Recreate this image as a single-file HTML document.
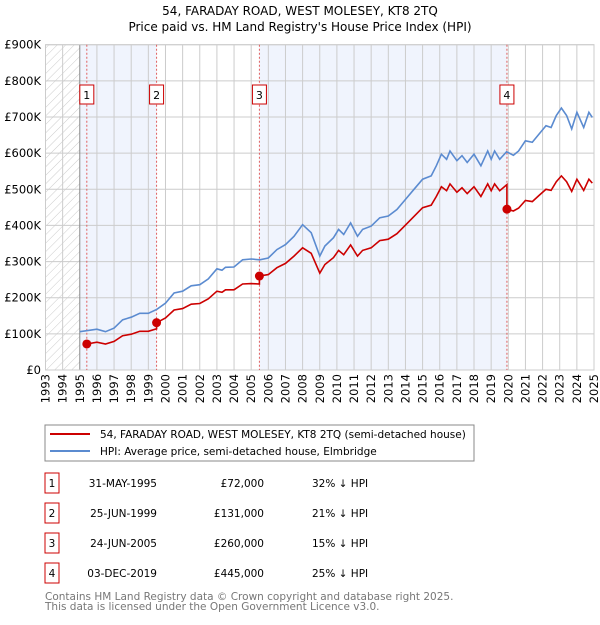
<!DOCTYPE html>
<html><head><meta charset="utf-8"><style>
body{margin:0;background:#fff;font-family:"Liberation Sans","DejaVu Sans",sans-serif}
svg text{font-family:"DejaVu Sans","Liberation Sans",sans-serif}
</style></head><body>
<svg id="c" width="600" height="620" xmlns="http://www.w3.org/2000/svg">
<defs><pattern id="hatch" width="6" height="6" patternUnits="userSpaceOnUse" patternTransform="rotate(45)"><line x1="0" y1="0" x2="0" y2="6" stroke="#ccc" stroke-width="1"/></pattern></defs>
<text x="300" y="15" text-anchor="middle" font-size="12">54, FARADAY ROAD, WEST MOLESEY, KT8 2TQ</text>
<text x="300" y="31" text-anchor="middle" font-size="12">Price paid vs. HM Land Registry's House Price Index (HPI)</text>
<g id="plot"></g>
<rect x="45" y="425" width="429" height="36" fill="#fff" stroke="#888"/>
<line x1="50" y1="434" x2="90" y2="434" stroke="#cc0000" stroke-width="2"/>
<text x="100" y="438" font-size="10.5">54, FARADAY ROAD, WEST MOLESEY, KT8 2TQ (semi-detached house)</text>
<line x1="50" y1="451" x2="90" y2="451" stroke="#5b8bd0" stroke-width="2"/>
<text x="100" y="455" font-size="10.5">HPI: Average price, semi-detached house, Elmbridge</text>
<g id="table" font-size="10.5"></g>
<text x="45" y="600" font-size="10.5" fill="#777">Contains HM Land Registry data © Crown copyright and database right 2025.</text>
<text x="45" y="610" font-size="10.5" fill="#777">This data is licensed under the Open Government Licence v3.0.</text>
</svg>
<script>
const hpiDates=[1995,1996,1996.5,1997,1997.5,1998,1998.5,1999,1999.5,2000,2000.5,2001,2001.5,2002,2002.5,2003,2003.3,2003.5,2004,2004.5,2005,2005.5,2006,2006.5,2007,2007.5,2008,2008.5,2009,2009.3,2009.8,2010.1,2010.4,2010.8,2011.2,2011.5,2012,2012.5,2013,2013.5,2014,2014.5,2015,2015.5,2015.8,2016.1,2016.4,2016.6,2017,2017.3,2017.6,2018,2018.4,2018.8,2019,2019.2,2019.5,2019.9,2020.3,2020.6,2021,2021.4,2021.8,2022.2,2022.5,2022.8,2023.1,2023.4,2023.7,2024,2024.4,2024.7,2024.9];
const hpiValues=[106,113,106,116,139,146,157,157,168,185,213,218,233,236,252,280,276,284,285,305,307,305,310,333,347,370,402,380,315,343,366,389,375,407,370,389,398,421,426,444,472,500,528,537,565,597,583,606,579,593,574,597,565,606,583,606,583,604,594,606,634,630,653,676,671,704,725,704,667,713,671,713,699];
const priceDates=[1995.41,1996,1996.5,1997,1997.5,1998,1998.5,1999,1999.48,1999.48,2000,2000.5,2001,2001.5,2002,2002.5,2003,2003.3,2003.5,2004,2004.5,2005,2005.48,2005.48,2006,2006.5,2007,2007.5,2008,2008.5,2009,2009.3,2009.8,2010.1,2010.4,2010.8,2011.2,2011.5,2012,2012.5,2013,2013.5,2014,2014.5,2015,2015.5,2015.8,2016.1,2016.4,2016.6,2017,2017.3,2017.6,2018,2018.4,2018.8,2019,2019.2,2019.5,2019.92,2019.92,2020.3,2020.6,2021,2021.4,2021.8,2022.2,2022.5,2022.8,2023.1,2023.4,2023.7,2024,2024.4,2024.7,2024.9];
const priceValues=[72,77,72,79,95,99,107,107,114,131,144,166,170,182,184,197,218,215,222,222,238,239,238,260,264,283,295,315,338,323,268,292,311,331,319,346,315,331,338,358,362,377,401,425,449,456,480,507,496,515,492,504,488,507,480,515,496,515,496,513,445,440,448,469,466,483,500,497,521,537,521,494,528,497,528,517];
const saleDates=[1995.41,1999.48,2005.48,2019.92];
const salePrices=[72,131,260,445];
const saleLabels=["31-MAY-1995","25-JUN-1999","24-JUN-2005","03-DEC-2019"];
const salePriceText=["£72,000","£131,000","£260,000","£445,000"];
const saleDiffText=["32% ↓ HPI","21% ↓ HPI","15% ↓ HPI","25% ↓ HPI"];
const yTicks=[0,100,200,300,400,500,600,700,800,900];
const yTickLabels=["£0","£100K","£200K","£300K","£400K","£500K","£600K","£700K","£800K","£900K"];
const xTicks=[];for(let y=1993;y<=2025;y++)xTicks.push(y);

const NS="http://www.w3.org/2000/svg";
const X0=45.5,X1=594,Y0=370,Y1=44.7;
const sx=v=>X0+(v-1993)/(2025-1993)*(X1-X0);
const sy=v=>Y0-(v/900)*(Y0-Y1);
const plot=document.getElementById('plot');
function mk(tag,attrs,parent){const e=document.createElementNS(NS,tag);for(const k in attrs)e.setAttribute(k,attrs[k]);(parent||plot).appendChild(e);return e;}

let r=mk('rect',{x:X0,y:Y1,width:X1-X0,height:Y0-Y1,fill:'#fff'});


r=mk('rect',{x:X0,y:Y1,width:sx(1995)-X0,height:Y0-Y1,fill:'url(#hatch)'});


const shades=[[1995,saleDates[1]],[saleDates[2],saleDates[3]]];
shades.forEach((s,i)=>{const e=mk('rect',{x:sx(s[0]),y:Y1,width:sx(s[1])-sx(s[0]),height:Y0-Y1,fill:'#f0f4fd'});

});
yTicks.forEach((t,i)=>{const l=mk('line',{x1:X0,x2:X1,y1:sy(t),y2:sy(t),stroke:'#ccc'});


const tx=mk('text',{x:41,y:sy(t)+4,'text-anchor':'end','font-size':'11.5'});tx.textContent=yTickLabels[i];

});
xTicks.forEach(t=>{const l=mk('line',{x1:sx(t),x2:sx(t),y1:Y1,y2:Y0,stroke:t==1995?'#888':'#ccc'});


const px=sx(t)+4,py=374;
const tx=mk('text',{x:px,y:py,'text-anchor':'end','font-size':'11.5',transform:'rotate(-90 '+px.toFixed(1)+' '+py+')'});tx.textContent=t;

});
mk('rect',{x:X0,y:Y1,width:X1-X0,height:Y0-Y1,fill:'none',stroke:'#ccc'});
saleDates.forEach((d,i)=>{const l=mk('line',{x1:sx(d),x2:sx(d),y1:Y1,y2:Y0,stroke:'#e06060','stroke-dasharray':'2,2'});


const bx=sx(d)-7;const b=mk('rect',{x:bx,y:85,width:14,height:19,fill:'#fff',stroke:'#c00'});


const t=mk('text',{x:sx(d),y:99,'text-anchor':'middle','font-size':'11'});t.textContent=i+1;

});
function path(ds,vs,col,name){let d='';ds.forEach((x,i)=>{d+=(i?'L':'M')+sx(x).toFixed(1)+','+sy(vs[i]).toFixed(1);});
const p=mk('path',{d:d,fill:'none',stroke:col,'stroke-width':1.6});

}
path(hpiDates,hpiValues,'#5b8bd0','hpi-line');
path(priceDates,priceValues,'#cc0000','price-paid-line');
saleDates.forEach((d,i)=>{const c=mk('circle',{cx:sx(d),cy:sy(salePrices[i]),r:4.5,fill:'#cc0000'});

});

const tb=document.getElementById('table');
saleDates.forEach((d,i)=>{const y=483+i*30;
const b=mk('rect',{x:45,y:y-10,width:14,height:20,fill:'#fff',stroke:'#c00'},tb);


const cells=[[52,'middle',String(i+1),'table-index'],[157,'end',saleLabels[i],'table-date'],[264,'end',salePriceText[i],'table-price'],[312,'start',saleDiffText[i],'table-hpi-diff']];
cells.forEach(c=>{const t=mk('text',{x:c[0],y:y+4,'text-anchor':c[1]},tb);t.textContent=c[2];

});});
</script>
</body></html>
